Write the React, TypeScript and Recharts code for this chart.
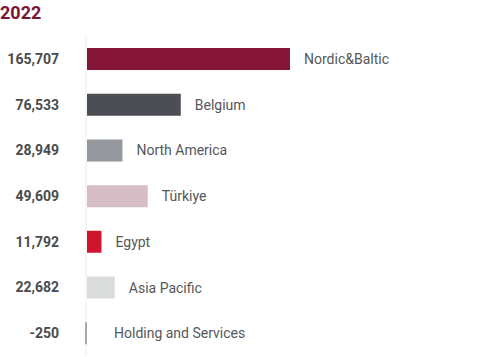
import React from 'react';
import { BarChart, Bar, XAxis, YAxis, Cell, LabelList } from 'recharts';

const regions = ['Nordic&Baltic', 'Belgium', 'North America', 'Türkiye', 'Egypt', 'Asia Pacific', 'Holding and Services'];
const values = [165707, 76533, 28949, 49609, 11792, 22682, -250];
const colors = ['#861638', '#4b4e52', '#95989d', '#d7bec6', '#cf142e', '#dadcdb', '#5c6b6b'];

const data = regions.map((name, i) => ({ name, value: values[i] }));

const fmt = (v: number) => v.toLocaleString('en-US');

const ValueTick = (props: any) => {
  const { y, payload } = props;
  const idx = regions.indexOf(payload.value);
  return (
    <text
      x={59}
      y={y}
      dy={5}
      textAnchor="end"
      fontFamily="Roboto"
      fontWeight={700}
      fontSize={14}
      fill="#4a4b4d"
    >
      {fmt(values[idx])}
    </text>
  );
};

const RegionLabel = (props: any) => {
  const { x, y, width, height, value } = props;
  const end = Math.max(x, x + width);
  const lx = Math.max(end + 14, 114);
  return (
    <text
      x={lx}
      y={y + height / 2}
      dy={5}
      textAnchor="start"
      fontFamily="Roboto"
      fontSize={14}
      fill="#555759"
    >
      {value}
    </text>
  );
};

const App: React.FC = () => {
  return (
    <div style={{ position: 'absolute', left: 0, top: 0, width: 480, height: 357, background: '#fff' }}>
      <div
        style={{
          position: 'absolute',
          left: 0,
          top: 1,
          fontFamily: 'Roboto',
          fontWeight: 700,
          fontSize: 18,
          color: '#7b1434',
          lineHeight: '24px',
        }}
      >
        2022
      </div>
      <BarChart
        width={480}
        height={357}
        data={data}
        layout="vertical"
        margin={{ top: 36, right: 0, bottom: 1, left: 0 }}
      >
        <XAxis type="number" hide domain={[-816, 320790]} />
        <YAxis
          type="category"
          dataKey="name"
          width={86}
          axisLine={{ stroke: '#ececec' }}
          tickLine={false}
          tick={<ValueTick />}
          interval={0}
        />
        <Bar dataKey="value" barSize={22} minPointSize={2} isAnimationActive={false}>
          {data.map((d, i) => (
            <Cell key={d.name} fill={colors[i]} />
          ))}
          <LabelList dataKey="name" content={<RegionLabel />} />
        </Bar>
      </BarChart>
    </div>
  );
};

export default App;
